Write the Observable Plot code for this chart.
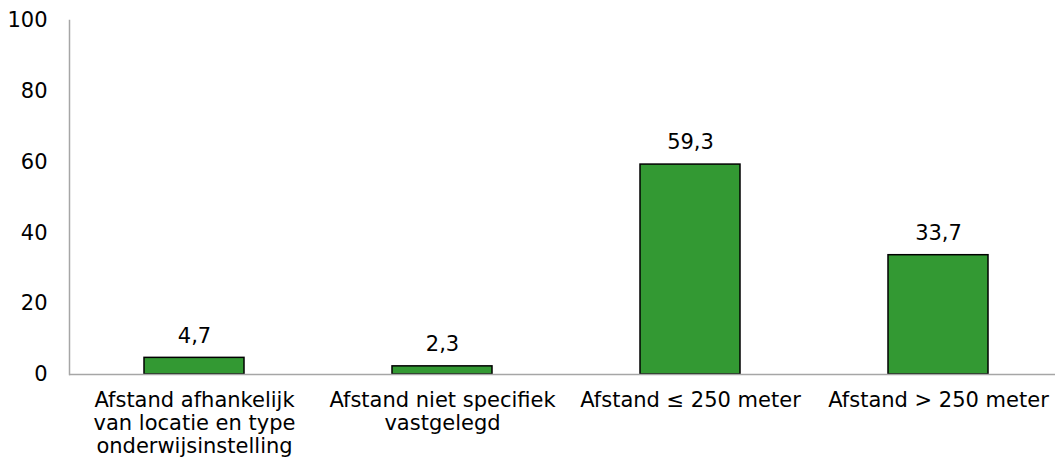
<!DOCTYPE html>
<html>
<head>
<meta charset="utf-8">
<script src="https://cdn.jsdelivr.net/npm/d3@7"></script>
<script src="https://cdn.jsdelivr.net/npm/@observablehq/plot@0.6"></script>
<style>
  html, body { margin: 0; padding: 0; background: #fff; }
</style>
</head>
<body>
<div id="chart"></div>
<script>
const categories = [
  "Afstand afhankelijk van locatie en type onderwijsinstelling",
  "Afstand niet specifiek vastgelegd",
  "Afstand ≤ 250 meter",
  "Afstand > 250 meter"
];
const tickLabels = [
  "Afstand afhankelijk\nvan locatie en type\nonderwijsinstelling",
  "Afstand niet specifiek\nvastgelegd",
  "Afstand ≤ 250 meter",
  "Afstand > 250 meter"
];
const values = [4.7, 2.3, 59.3, 33.7];
const yTicks = [0, 20, 40, 60, 80, 100];

const data = categories.map((c, i) => ({category: c, value: values[i]}));
const fmt = v => v.toFixed(1).replace(".", ",");
const labelOf = new Map(categories.map((c, i) => [c, tickLabels[i]]));

const chart = Plot.plot({
  width: 1055,
  height: 466,
  marginTop: 20,
  marginBottom: 92,
  marginLeft: 69,
  marginRight: 0,
  style: {fontFamily: "Verdana, 'DejaVu Sans', sans-serif", fontSize: "21px", color: "#000", background: "#fff"},
  x: {domain: categories, range: [69, 1062], paddingInner: 0.597, paddingOuter: 0.2985, label: null},
  y: {domain: [0, 100], label: null},
  marks: [
    Plot.frame({anchor: "left", stroke: "#a6a6a6", strokeWidth: 1.5}),
    Plot.barY(data, {x: "category", y: "value", fill: "#339933", stroke: "#000", strokeWidth: 1.5}),
    Plot.ruleY([0], {stroke: "#a6a6a6", strokeWidth: 1.5}),
    Plot.text(data, {x: "category", y: "value", text: d => fmt(d.value), dy: -22, fill: "#000", fontSize: 21}),
    Plot.axisY({ticks: yTicks, tickSize: 0, tickPadding: 22, fontSize: 21, fill: "#000"}),
    Plot.axisX({tickSize: 0, tickPadding: 16, tickFormat: d => labelOf.get(d), lineHeight: 1.1, fontSize: 21, fill: "#000"})
  ]
});
document.getElementById("chart").appendChild(chart);
</script>
</body>
</html>
